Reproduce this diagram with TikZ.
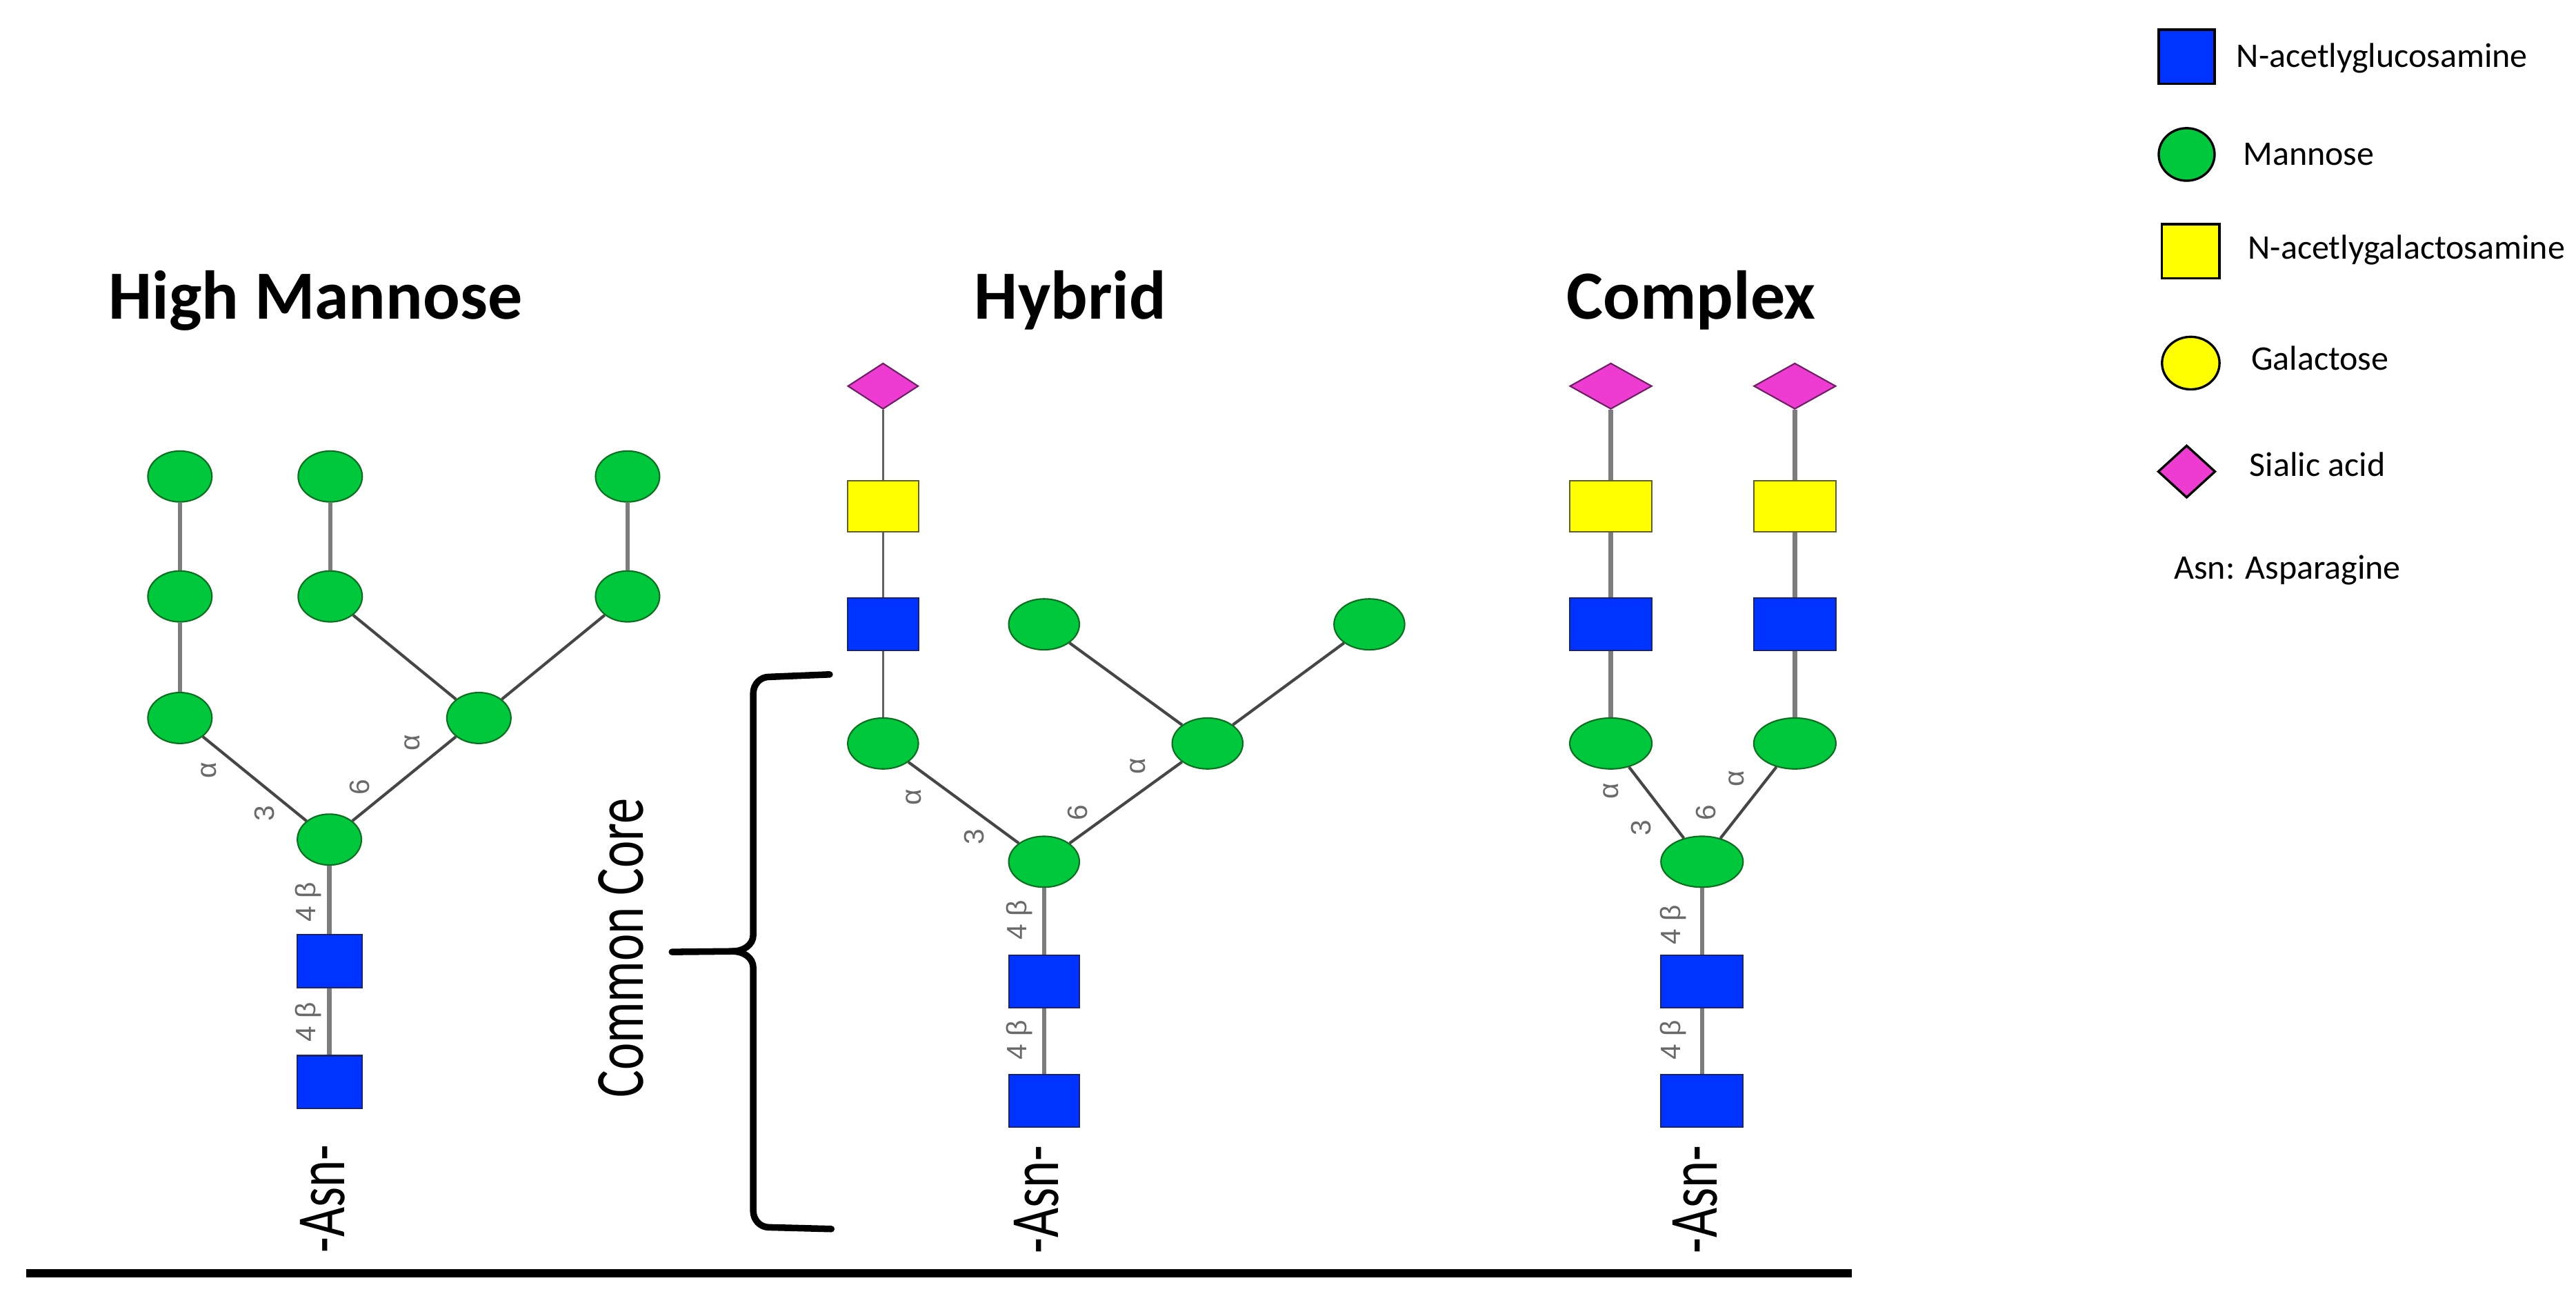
\documentclass[tikz,border=0pt]{standalone}
\usepackage{fontspec}
\usepackage{graphicx}
\usetikzlibrary{shapes.geometric}
\newfontfamily\carlito{Carlito}
\newfontfamily\labfont{Liberation Sans}
\definecolor{glcblue}{RGB}{0,51,255}
\definecolor{glcblueD}{RGB}{25,35,110}
\definecolor{mangreen}{RGB}{0,200,60}
\definecolor{mangreenD}{RGB}{10,110,30}
\definecolor{galyellow}{RGB}{255,255,0}
\definecolor{galyellowD}{RGB}{95,95,45}
\definecolor{siamag}{RGB}{238,60,210}
\definecolor{siamagD}{RGB}{110,30,100}
\definecolor{bondgray}{RGB}{70,70,70}
\definecolor{bondlight}{RGB}{125,125,125}
\definecolor{labgray}{RGB}{105,105,105}
\begin{document}
\begin{tikzpicture}[x=0.02cm,y=-0.02cm,
  man/.style={ellipse,fill=mangreen,draw=mangreenD,line width=0.5pt,inner sep=0pt,minimum width=#1*0.02cm,minimum height=31*0.02cm},
  man/.default=39,
  gn/.style={rectangle,fill=glcblue,draw=glcblueD,line width=0.5pt,inner sep=0pt,minimum width=#1*0.02cm,minimum height=32*0.02cm},
  gn/.default=39.5,
  gal/.style={rectangle,fill=galyellow,draw=galyellowD,line width=0.5pt,inner sep=0pt,minimum width=#1*0.02cm,minimum height=31*0.02cm},
  gal/.default=43,
  sia/.style={diamond,fill=siamag,draw=siamagD,line width=0.5pt,inner sep=0pt,minimum width=#1*0.02cm,minimum height=28*0.02cm},
  sia/.default=43,
  bond/.style={draw=bondgray,line width=0.035cm},
  thinbond/.style={draw=bondgray!85,line width=0.03cm},
  vbond/.style={draw=bondlight,line width=0.055cm},
  lnk/.style={rotate=90,text=labgray,font=\labfont\fontsize{9.7}{11}\selectfont,inner sep=0pt},
  ttl/.style={font=\carlito\bfseries\fontsize{23.9}{28}\selectfont,anchor=base,inner sep=0pt},
  cond/.style={rotate=90,inner sep=0pt},
  leg/.style={font=\carlito\fontsize{11.95}{14}\selectfont,anchor=base west,inner sep=0pt},
  legline/.style={draw=black,line width=0.8pt},
  bracestroke/.style={line width=0.08cm,line cap=round,line join=round}
]
\fill[white] (0,0) rectangle (1568,794);
\useasboundingbox (0,0) rectangle (1568,794);

% ---------------- High Mannose ----------------
\node[ttl] (t1) at (192,194) {High Mannose};
\node[man] (h1) at (109.5,290) {};
\node[man] (h2) at (201,290) {};
\node[man] (h3) at (382,290) {};
\node[man] (h4) at (109.5,363) {};
\node[man] (h5) at (201,363) {};
\node[man] (h6) at (382,363) {};
\node[man] (h7) at (109.5,437) {};
\node[man] (h8) at (291.5,437) {};
\node[man] (hc) at (200.5,511) {};
\node[gn] (hg1) at (200.5,585) {};
\node[gn] (hg2) at (200.5,658.5) {};
\draw[vbond] (h1) -- (h4);
\draw[vbond] (h4) -- (h7);
\draw[vbond] (h2) -- (h5);
\draw[vbond] (h3) -- (h6);
\draw[vbond] (hc) -- (hg1);
\draw[vbond] (hg1) -- (hg2);
\draw[bond] (h5) -- (h8);
\draw[bond] (h6) -- (h8);
\draw[bond] (h7) -- (hc);
\draw[bond] (h8) -- (hc);
\node[lnk] (hl1) at (127,469) {α};
\node[lnk] (hl2) at (161,495) {3};
\node[lnk] (hl3) at (219,479) {6};
\node[lnk] (hl4) at (251,452) {α};
\node[lnk] (hl5) at (187.5,549) {4 β};
\node[lnk] (hl6) at (187.5,622) {4 β};
\node[cond] (ha) at (196.5,729.5) {\scalebox{0.745}[1]{\carlito\fontsize{23.9}{28}\selectfont -Asn-}};

% ---------------- Common core brace ----------------
\node[cond] (core) at (378,577) {\scalebox{0.745}[1]{\carlito\fontsize{23.9}{28}\selectfont Common Core}};
\draw[bracestroke] (505,410.5) -- (468,412) to[out=180,in=90] (458.5,422) -- (458.5,569) to[out=-90,in=0] (446,579) -- (409,579.4);
\draw[bracestroke] (506,748) -- (468,747) to[out=180,in=-90] (458.5,737) -- (458.5,589) to[out=90,in=0] (446,579);

% ---------------- Hybrid ----------------
\node[ttl] (t2) at (651.5,194) {Hybrid};
\node[sia=43] (ys) at (537.5,235) {};
\node[gal=43] (yy) at (537.5,308) {};
\node[gn=43] (yb) at (537.5,380) {};
\node[man=43] (ya) at (537.5,452.5) {};
\node[man=43] (yc) at (635.5,524.5) {};
\node[man=43] (yd) at (735,452.5) {};
\node[man=43] (ye) at (635.5,380) {};
\node[man=43] (yf) at (833.5,380) {};
\node[gn=43] (yg1) at (635.5,597.5) {};
\node[gn=43] (yg2) at (635.5,670) {};
\draw[thinbond] (ys) -- (yy);
\draw[thinbond] (yy) -- (yb);
\draw[thinbond] (yb) -- (ya);
\draw[bond] (ya) -- (yc);
\draw[bond] (yd) -- (yc);
\draw[bond] (ye) -- (yd);
\draw[bond] (yf) -- (yd);
\draw[vbond] (yc) -- (yg1);
\draw[vbond] (yg1) -- (yg2);
\node[lnk] (yl1) at (556,485) {α};
\node[lnk] (yl2) at (593,509.5) {3};
\node[lnk] (yl3) at (656,494.5) {6};
\node[lnk] (yl4) at (692.5,466.5) {α};
\node[lnk] (yl5) at (620.5,560) {4 β};
\node[lnk] (yl6) at (620.5,633) {4 β};
\node[cond] (yasn) at (631,730) {\scalebox{0.745}[1]{\carlito\fontsize{23.9}{28}\selectfont -Asn-}};

% ---------------- Complex ----------------
\node[ttl] (t3) at (1029.5,194) {Complex};
\node[sia=50] (cs1) at (980.5,235) {};
\node[sia=50] (cs2) at (1092.5,235) {};
\node[gal=50] (cy1) at (980.5,308) {};
\node[gal=50] (cy2) at (1092.5,308) {};
\node[gn=50] (cb1) at (980.5,380) {};
\node[gn=50] (cb2) at (1092.5,380) {};
\node[man=50] (cm1) at (980.5,452.5) {};
\node[man=50] (cm2) at (1092.5,452.5) {};
\node[man=50] (cm0) at (1036,524.5) {};
\node[gn=50] (cg1) at (1036,597.5) {};
\node[gn=50] (cg2) at (1036,670) {};
\draw[vbond] (cs1) -- (cy1);
\draw[vbond] (cy1) -- (cb1);
\draw[vbond] (cb1) -- (cm1);
\draw[vbond] (cs2) -- (cy2);
\draw[vbond] (cy2) -- (cb2);
\draw[vbond] (cb2) -- (cm2);
\draw[bond] (cm1) -- (cm0);
\draw[bond] (cm2) -- (cm0);
\draw[vbond] (cm0) -- (cg1);
\draw[vbond] (cg1) -- (cg2);
\node[lnk] (cl1) at (980.5,481.5) {α};
\node[lnk] (cl2) at (999,504) {3};
\node[lnk] (cl3) at (1038.5,494.5) {6};
\node[lnk] (cl4) at (1057,474) {α};
\node[lnk] (cl5) at (1018.5,563) {4 β};
\node[lnk] (cl6) at (1018.5,633) {4 β};
\node[cond] (casn) at (1032,730) {\scalebox{0.745}[1]{\carlito\fontsize{23.9}{28}\selectfont -Asn-}};

% ---------------- baseline ----------------
\coordinate (bl1) at (16,775);
\coordinate (bl2) at (1127,775);
\draw[line width=0.1cm] (bl1) -- (bl2);

% ---------------- Legend ----------------
\node[gn=34,legline,minimum height=33*0.02cm] (lg1) at (1331,34.5) {};
\node[man=34,legline,minimum height=32*0.02cm] (lg2) at (1331,94) {};
\node[gal=35,legline,minimum height=33*0.02cm] (lg3) at (1333.5,153) {};
\node[ellipse,fill=galyellow,legline,inner sep=0pt,minimum width=35*0.02cm,minimum height=32*0.02cm] (lg4) at (1333.5,221) {};
\node[sia=35,legline,minimum height=32*0.02cm] (lg5) at (1331,287) {};
\node[leg] (lt1) at (1361,41) {N-acetlyglucosamine};
\node[leg] (lt2) at (1365,100.7) {Mannose};
\node[leg] (lt3) at (1368,157.8) {N-acetlygalactosamine};
\node[leg] (lt4) at (1370,225.3) {Galactose};
\node[leg] (lt5) at (1369,289.7) {Sialic acid};
\node[leg] (lt6) at (1323,352.3) {Asn: Asparagine};
\end{tikzpicture}
\end{document}
